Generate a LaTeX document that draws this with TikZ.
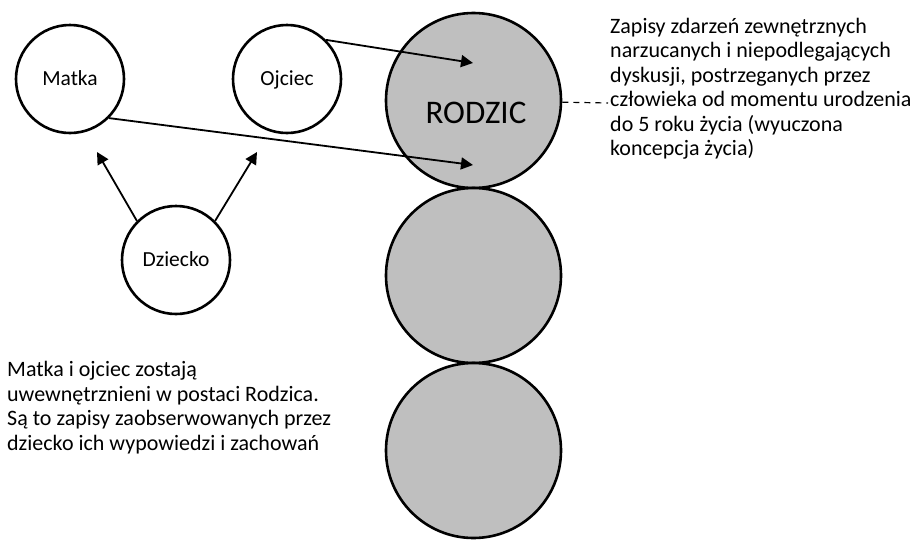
\documentclass[tikz,border=0pt]{standalone}
\usepackage{fontspec}
\setmainfont{Carlito}
\usetikzlibrary{arrows.meta}

\definecolor{egogrey}{HTML}{BFBFBF}

\tikzset{
  person/.style={circle, draw=black, line width=2.6pt, fill=white,
    minimum size=108pt, inner sep=0pt, text height=14pt, text depth=1pt,
    font=\fontsize{21.5}{26}\selectfont},
  egostate/.style={circle, draw=black, line width=2.6pt, fill=egogrey,
    minimum size=175pt, inner sep=0pt},
  link/.style={line width=1.8pt, -{Triangle[length=12pt,width=12pt]}},
  note/.style={line width=1.2pt, dash pattern=on 6pt off 5pt},
  caption/.style={inner sep=0pt, align=left, anchor=base west,
    font=\fontsize{22}{24.5}\selectfont}
}

\begin{document}
\begin{tikzpicture}[x=1pt, y=-1pt]
  \useasboundingbox (0,0) rectangle (918,539);

  % parent ego state stack
  \node[egostate] (r1) at (473.5,100.5) {};
  \node[egostate] (r2) at (473.5,275.5) {};
  \node[egostate] (r3) at (473.5,450.5) {};
  \node[font=\fontsize{33}{40}\selectfont, inner sep=0pt] (rlabel) at (476,112.5) {RODZIC};

  % family
  \node[person] (matka)   at (70,79)   {Matka};
  \node[person] (ojciec)  at (287,79)  {Ojciec};
  \node[person] (dziecko) at (176,260) {Dziecko};

  % arrow targets
  \coordinate (tmatka)  at (97,152);
  \coordinate (tojciec) at (257,152);
  \coordinate (tup)     at (473,63);
  \coordinate (tdown)   at (473,165);
  \coordinate (dashend) at (608,103);

  \draw[link] (dziecko.135) -- (tmatka);
  \draw[link] (dziecko.45)  -- (tojciec);
  \draw[link] (ojciec.45)   -- (tup);
  \draw[link] (matka.-45)   -- (tdown);

  \draw[note] (r1) -- (dashend);

  % explanations (anchored at the baseline of the last line)
  \node[caption] (opis) at (610,155.5) {Zapisy zdarzeń zewnętrznych\\
    narzucanych i niepodlegających\\
    dyskusji, postrzeganych przez\\
    człowieka od momentu urodzenia\\
    do 5 roku życia (wyuczona\\
    koncepcja życia)};
  \node[caption] (uwagi) at (7,450) {Matka i ojciec zostają\\
    uwewnętrznieni w postaci Rodzica.\\
    Są to zapisy zaobserwowanych przez\\
    dziecko ich wypowiedzi i zachowań};
\end{tikzpicture}
\end{document}
